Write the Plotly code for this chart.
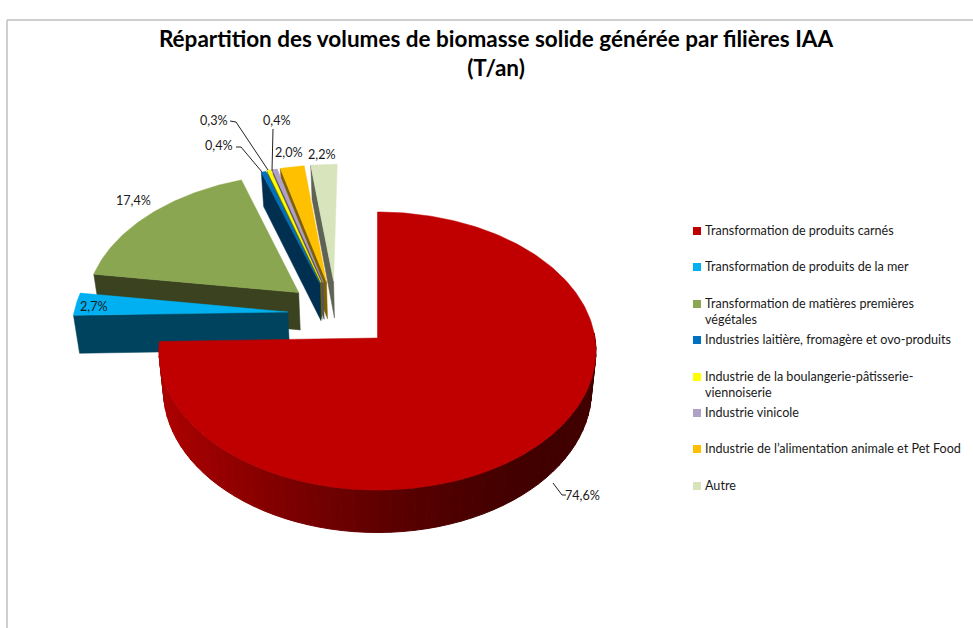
import math
import plotly.graph_objects as go

# ---------- data ----------
categories = [
    "Transformation de produits carnés",
    "Transformation de produits de la mer",
    "Transformation de matières premières végétales",
    "Industries laitière, fromagère et ovo-produits",
    "Industrie de la boulangerie-pâtisserie-viennoiserie",
    "Industrie vinicole",
    "Industrie de l’alimentation animale et Pet Food",
    "Autre",
]
values = [74.6, 2.7, 17.4, 0.4, 0.3, 0.4, 2.0, 2.2]

# ---------- style and layout ----------
top_colors = ["#C00000", "#00B0F0", "#8BA650", "#0070C0", "#FFFF00", "#B1A0C7", "#FFC000", "#D8E4BC"]
side_colors = [None, "#00435E", "#3A421F", "#002F50", "#6B6B00", "#5A5060", "#7F6000", "#5F6353"]
legend_lines = [
    ["Transformation de produits carnés"],
    ["Transformation de produits de la mer"],
    ["Transformation de matières premières", "végétales"],
    ["Industries laitière, fromagère et ovo-produits"],
    ["Industrie de la boulangerie-pâtisserie-", "viennoiserie"],
    ["Industrie vinicole"],
    ["Industrie de l’alimentation animale et Pet Food"],
    ["Autre"],
]
legend_y = [231, 267, 304, 340, 377, 413, 449, 486]
explode = [(0, 0), (-0.42, 0.192), (-0.374, 0.34), (-0.275, 0.41), (-0.27, 0.42),
           (-0.26, 0.42), (-0.244, 0.425), (-0.21, 0.43)]
label_pos = [(582, 495), (94, 306), (133, 200), (219, 145), (214, 120), (277, 120), (289, 152), (322, 154)]
leaders = {
    0: [(553, 483), (562, 495), (566, 495)],
    3: [(236, 147), (241, 147), (262, 172)],
    4: [(230, 121), (236, 122), (268, 170)],
    5: [(273, 129), (272, 171)],
}
draw_order = [7, 6, 5, 4, 3, 2, 1, 0]
CX, CY, RX, RY, K, DEPTH, TAPER = 377.5, 338, 217.5, 137.8, 0.0936, 38.5, 0.98
FONT = "Lato"
TEXT = "#1a1a1a"


def project(u, v):
    s = 1 / (1 + K * v)
    return CX + RX * u * s, CY - RY * v * s, s


def lower(u, v):
    x, y, s = project(u, v)
    return CX + (x - CX) * TAPER, y + DEPTH * s


def arc(a0, a1, eu, ev, step=1.0):
    n = max(2, int(abs(a1 - a0) / step) + 1)
    out = []
    for i in range(n + 1):
        a = math.radians(a0 + (a1 - a0) * i / n)
        out.append((math.sin(a) + eu, math.cos(a) + ev))
    return out


def poly(points, color, name, lw=0.5, legend=False):
    xs = [p[0] for p in points] + [points[0][0]]
    ys = [p[1] for p in points] + [points[0][1]]
    return go.Scatter(x=xs, y=ys, mode="lines", fill="toself", fillcolor=color,
                      line=dict(color=color, width=lw), name=name,
                      showlegend=False, hoverinfo="name")


def red_shade(x):
    stops = [(160, (172, 0, 0)), (300, (120, 0, 0)), (420, (84, 0, 0)), (520, (66, 0, 0)), (600, (64, 0, 0))]
    for (x0, c0), (x1, c1) in zip(stops, stops[1:]):
        if x <= x1:
            t = max(0, (x - x0) / (x1 - x0))
            c = [round(a + (b - a) * t) for a, b in zip(c0, c1)]
            return f"rgb({c[0]},{c[1]},{c[2]})"
    return "rgb(64,0,0)"


total = sum(values)
bounds = [0]
for val in values:
    bounds.append(bounds[-1] + val / total * 360)

fig = go.Figure()
for i in draw_order:
    a0, a1 = bounds[i], bounds[i + 1]
    eu, ev = explode[i]
    pts = arc(a0, a1, eu, ev)
    if i == 0:
        # rim of the main slice, drawn as shaded strips
        rim = arc(88, a1, eu, ev, step=3)
        for (u0, v0), (u1, v1) in zip(rim, rim[1:]):
            p0, p1 = project(u0, v0), project(u1, v1)
            q0, q1 = lower(u0, v0), lower(u1, v1)
            fig.add_trace(poly([p0[:2], p1[:2], q1, q0], red_shade((p0[0] + p1[0]) / 2), categories[0], lw=1))
    else:
        # radial face turned towards the viewer
        tip = pts[0]
        face = [project(*tip)[:2], project(eu, ev)[:2], lower(eu, ev), lower(*tip)]
        fig.add_trace(poly(face, side_colors[i], categories[i]))
    top = [project(eu, ev)[:2]] + [project(u, v)[:2] for u, v in pts]
    fig.add_trace(poly(top, top_colors[i], categories[i]))

# leader lines
for i, pts in leaders.items():
    fig.add_trace(go.Scatter(x=[p[0] for p in pts], y=[p[1] for p in pts], mode="lines",
                             line=dict(color="#222222", width=1), showlegend=False, hoverinfo="skip"))

# legend swatches
fig.add_trace(go.Scatter(x=[697] * len(categories), y=legend_y, mode="markers",
                         marker=dict(symbol="square", size=8, color=top_colors, line=dict(width=0)),
                         text=categories, hoverinfo="text", showlegend=False))

annotations = []
for i, val in enumerate(values):
    annotations.append(dict(x=label_pos[i][0], y=label_pos[i][1], xref="x", yref="y", showarrow=False,
                            text=f"{val:.1f}%".replace(".", ","),
                            font=dict(family=FONT, size=12.6, color=TEXT)))
for lines, y in zip(legend_lines, legend_y):
    annotations.append(dict(x=703, y=y - 1, xref="x", yref="y", xanchor="left", yanchor="middle" if len(lines) == 1 else "top",
                            yshift=0 if len(lines) == 1 else 9, showarrow=False, align="left",
                            text="<br>".join(lines), font=dict(family=FONT, size=12.6, color=TEXT)))

fig.update_layout(
    width=973, height=628, autosize=False,
    margin=dict(l=0, r=0, t=0, b=0),
    paper_bgcolor="white", plot_bgcolor="white",
    showlegend=False,
    xaxis=dict(range=[0, 973], visible=False, fixedrange=True),
    yaxis=dict(range=[628, 0], visible=False, fixedrange=True),
    title=dict(text="Répartition des volumes de biomasse solide générée par filières IAA<br>(T/an)",
               x=496 / 973, xanchor="center", xref="paper", y=1 - 24 / 628, yanchor="top",
               pad=dict(t=0, b=0, l=0, r=0),
               font=dict(family=FONT, size=22.5, color="#000000", weight="bold")),
    annotations=annotations,
    shapes=[
        dict(type="line", xref="x", yref="y", x0=7, x1=973, y0=20, y1=20, line=dict(color="#BFBFBF", width=1.5)),
        dict(type="line", xref="x", yref="y", x0=7, x1=7, y0=20, y1=628, line=dict(color="#BFBFBF", width=1.5)),
    ],
)
# Title position is independent of the page margin, so nudge through annotation-free yshift-less layout
fig.layout.title.y = 1 - 47 / 628
fig.write_html("out.html", config={"displayModeBar": False},
               post_script="document.body.style.margin='0';document.body.style.overflow='hidden';")
